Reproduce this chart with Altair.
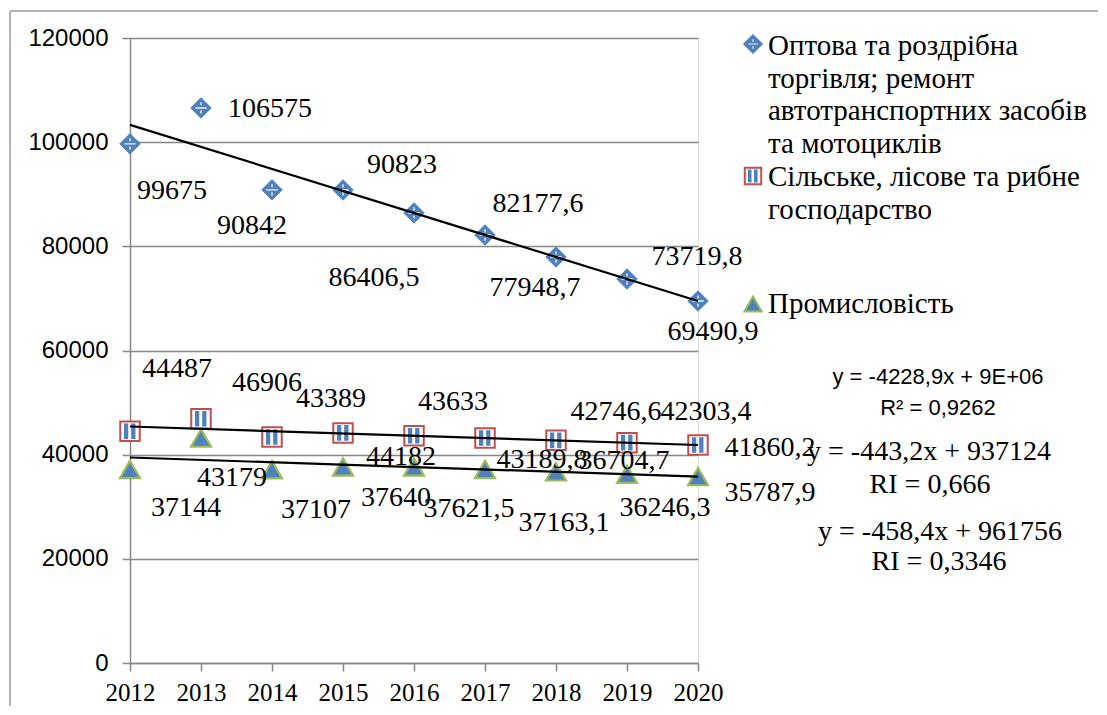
import altair as alt
import pandas as pd

YEARS = [2012, 2013, 2014, 2015, 2016, 2017, 2018, 2019, 2020]
SERIES = [
    "Оптова та роздрібна торгівля; ремонт автотранспортних засобів та мотоциклів",
    "Сільське, лісове та рибне господарство",
    "Промисловість",
]
TRADE = [99675, 106575, 90842, 90823, 86406.5, 82177.6, 77948.7, 73719.8, 69490.9]
AGRI = [44487, 46906, 43389, 44182, 43633, 43189.8, 42746.6, 42303.4, 41860.2]
INDUSTRY = [37144, 43179, 37107, 37640, 37621.5, 37163.1, 36704.7, 36246.3, 35787.9]
Y_TICKS = [0, 20000, 40000, 60000, 80000, 100000, 120000]

LEGEND_LINES = [
    ["Оптова та роздрібна", "торгівля; ремонт", "автотранспортних засобів", "та мотоциклів"],
    ["Сільське, лісове та рибне", "господарство"],
    ["Промисловість"],
]
EQUATIONS = [
    ["y = -4228,9x + 9E+06", "R² = 0,9262"],
    ["y = -443,2x + 937124", "RI = 0,666"],
    ["y = -458,4x + 961756", "RI = 0,3346"],
]

# label offsets (pixels) relative to each point, per series
LABEL_OFFSETS = [
    [(42, 47), (69, 1), (-20, 36), (59, -25), (-40, 65), (53, -31), (-21, 31), (70, -22), (15, 31)],
    [(47, -62), (66, -36), (59, -38), (58, 24), (39, -34), (57, 22), (60, -28), (79, -31), (72, 3)],
    [(56, 38), (31, 40), (44, 40), (53, 31), (55, 42), (79, 54), (68, -11), (38, 34), (72, 16)],
]

BLUE = "#4F81BD"
RED = "#C0504D"
GREEN = "#9BBB59"
GRID = "#878787"
FRAME = "#9a9a9a"
SERIF = "Liberation Serif"
SANS = "Liberation Sans"


def fmt(v):
    return f"{v:g}".replace(".", ",")


rows = []
for name, vals in zip(SERIES, [TRADE, AGRI, INDUSTRY]):
    for yr, v in zip(YEARS, vals):
        rows.append({"year": yr, "value": v, "series": name, "label": fmt(v)})
df = pd.DataFrame(rows)
base = alt.Chart(df)

x_enc = alt.X(
    "year:Q",
    scale=alt.Scale(domain=[2012, 2020], nice=False, zero=False),
    axis=alt.Axis(
        values=YEARS, format="d", title=None, grid=False, ticks=True, tickSize=8,
        tickColor=GRID, tickWidth=1.5, domainColor=GRID, domainWidth=1.5,
        labelFont=SERIF, labelFontSize=25, labelPadding=9, labelColor="black",
        labelFlush=False, labelOverlap=False,
    ),
)
y_enc = alt.Y(
    "value:Q",
    scale=alt.Scale(domain=[0, 120000], nice=False),
    axis=alt.Axis(
        values=Y_TICKS, format="d", title=None, grid=True, gridColor=GRID, gridWidth=1.5,
        ticks=True, tickSize=8, tickColor=GRID, tickWidth=1.5, domainColor=GRID,
        domainWidth=1.5, labelFont=SANS, labelFontSize=24, labelPadding=14,
        labelColor="black", labelOverlap=False, labelFlush=False,
    ),
)

layers = []

# frame
one = alt.Data(values=[{"k": 0}])
layers.append(alt.Chart(one).mark_rule(color=FRAME, strokeWidth=1.5).encode(
    x=alt.value(-120), x2=alt.value(980), y=alt.value(-27)))
layers.append(alt.Chart(one).mark_rule(color=FRAME, strokeWidth=1.5).encode(
    x=alt.value(-120), y=alt.value(-27), y2=alt.value(700)))

DIAMOND_INNER = "M-0.55,-0.07H0.55V0.07H-0.55Z M-0.07,-0.55H0.07V-0.25H-0.07Z M-0.07,0.25H0.07V0.55H-0.07Z"
STRIPES = "M-0.62,-0.8H-0.18V0.8H-0.62Z M0.12,-0.8H0.56V0.8H0.12Z"

# series 1 markers
s1 = base.transform_filter(alt.datum.series == SERIES[0])
layers.append(s1.mark_point(shape="diamond", filled=True, fill=BLUE, stroke=BLUE,
                            strokeWidth=1, size=420, opacity=1).encode(x=x_enc, y=y_enc))
layers.append(s1.mark_point(shape=DIAMOND_INNER, filled=True, fill="white", strokeWidth=0,
                            size=420, opacity=0.9).encode(x=x_enc, y=y_enc))
# series 2 markers
s2 = base.transform_filter(alt.datum.series == SERIES[1])
layers.append(s2.mark_point(shape="square", filled=True, fill="white", stroke=RED,
                            strokeWidth=2, size=380, opacity=1).encode(x=x_enc, y=y_enc))
layers.append(s2.mark_point(shape=STRIPES, filled=True, fill=BLUE, strokeWidth=0,
                            size=380, opacity=1).encode(x=x_enc, y=y_enc))
# series 3 markers
s3 = base.transform_filter(alt.datum.series == SERIES[2])
layers.append(s3.mark_point(shape="triangle-up", filled=True, fill=BLUE, stroke=GREEN,
                            strokeWidth=2.2, size=400, opacity=1).encode(x=x_enc, y=y_enc))

# trend lines
layers.append(base.transform_regression("year", "value", groupby=["series"]).mark_line(
    color="black", strokeWidth=2.2).encode(x=x_enc, y=y_enc, detail="series:N"))

# data labels
for name, offs in zip(SERIES, LABEL_OFFSETS):
    for yr, (dx, dy) in zip(YEARS, offs):
        layers.append(
            base.transform_filter((alt.datum.series == name) & (alt.datum.year == yr))
            .mark_text(dx=dx, dy=dy, font=SERIF, fontSize=28, align="center",
                       baseline="middle", color="black")
            .encode(x=x_enc, y=y_enc, text="label:N")
        )

# legend
LEG_X = 623
LEG_TEXT_X = 638
LEG_MARK_Y = [6, 138, 266]
LEG_BASELINES = [[17, 50, 82, 115], [148, 181], [275]]
layers.append(alt.Chart(one).mark_point(shape="diamond", filled=True, fill=BLUE, stroke=BLUE,
                                        size=300, opacity=1).encode(
    x=alt.value(LEG_X), y=alt.value(LEG_MARK_Y[0])))
layers.append(alt.Chart(one).mark_point(shape=DIAMOND_INNER, filled=True, fill="white",
                                        strokeWidth=0, size=300, opacity=0.9).encode(
    x=alt.value(LEG_X), y=alt.value(LEG_MARK_Y[0])))
layers.append(alt.Chart(one).mark_point(shape="square", filled=True, fill="white", stroke=RED,
                                        strokeWidth=2, size=270, opacity=1).encode(
    x=alt.value(LEG_X), y=alt.value(LEG_MARK_Y[1])))
layers.append(alt.Chart(one).mark_point(shape=STRIPES, filled=True, fill=BLUE, strokeWidth=0,
                                        size=270, opacity=1).encode(
    x=alt.value(LEG_X), y=alt.value(LEG_MARK_Y[1])))
layers.append(alt.Chart(one).mark_point(shape="triangle-up", filled=True, fill=BLUE,
                                        stroke=GREEN, strokeWidth=2, size=300, opacity=1).encode(
    x=alt.value(LEG_X), y=alt.value(LEG_MARK_Y[2])))
for lines, bls in zip(LEGEND_LINES, LEG_BASELINES):
    for line, bl in zip(lines, bls):
        layers.append(alt.Chart(one).mark_text(text=line, font=SERIF, fontSize=29, align="left",
                                               baseline="alphabetic", color="black").encode(
            x=alt.value(LEG_TEXT_X), y=alt.value(bl)))

# trendline equations
EQ_POS = [[(808, 339), (808, 370)], [(799, 414), (800, 447)], [(810, 494), (809, 524)]]
EQ_FONT = [(SANS, 22), (SERIF, 28), (SERIF, 28)]
for lines, poss, (fam, fs) in zip(EQUATIONS, EQ_POS, EQ_FONT):
    for line, (px, py) in zip(lines, poss):
        layers.append(alt.Chart(one).mark_text(text=line, font=fam, fontSize=fs, align="center",
                                               baseline="middle", color="black").encode(
            x=alt.value(px), y=alt.value(py)))

chart = alt.layer(*layers).properties(
    width=568, height=625,
    autosize=alt.AutoSizeParams(type="none"),
    padding={"left": 122, "top": 30, "right": 400, "bottom": 43},
).configure_view(stroke=None).configure(background="white")

chart.save("out.html", embed_options={"renderer": "svg", "actions": False})
